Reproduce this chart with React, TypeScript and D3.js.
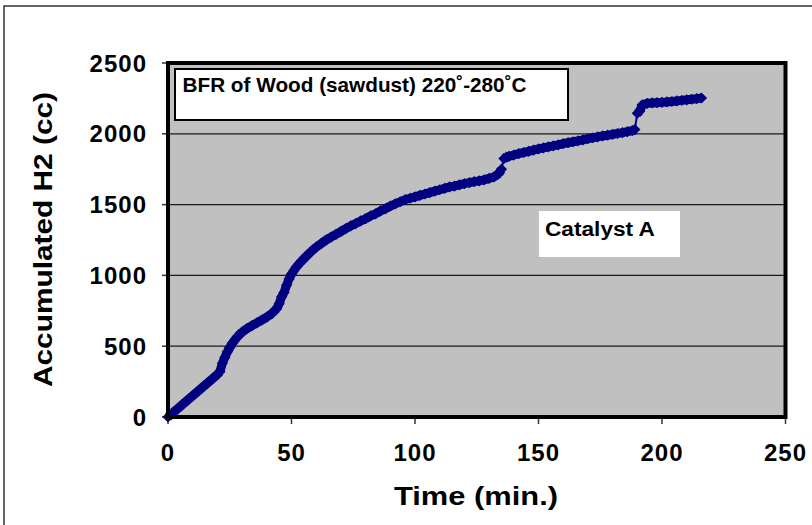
import React from "react";
import * as d3 from "d3";

const times: number[] = [
  0, 2, 4, 6, 8, 10, 12, 14, 16, 18, 20, 21, 22, 23, 24, 25, 26, 28, 30, 32, 34, 36, 38, 40, 42, 44, 45, 46, 47, 48, 49, 50,
  52, 54, 56, 58, 60, 62, 64, 66, 68, 70, 72, 74, 76, 78, 80, 82, 84, 86, 88, 90, 92, 94, 96, 98, 100,
  102, 104, 106, 108, 110, 112, 114, 116, 118, 120, 122, 124, 126, 128, 130, 132, 134, 135, 136, 137, 138,
  140, 142, 144, 146, 148, 150, 152, 154, 156, 158, 160, 162, 164, 166, 168, 170, 172, 174, 176, 178, 180,
  182, 184, 186, 188, 189, 190, 191, 192, 194, 196, 198, 200, 202, 204, 206, 208, 210, 212, 214, 216,
];
const h2: number[] = [
  0, 30, 60, 90, 120, 150, 180, 210, 240, 270, 300, 320, 380, 420, 460, 490, 520, 565, 600, 625, 645, 665, 685, 705, 730, 765, 800, 850, 880, 930, 975, 1010,
  1060, 1100, 1135, 1170, 1200, 1225, 1250, 1270, 1290, 1310, 1330, 1350, 1365, 1385, 1400, 1420, 1435, 1455, 1470, 1490, 1505, 1520, 1535, 1545, 1555,
  1565, 1575, 1585, 1595, 1605, 1615, 1625, 1630, 1640, 1648, 1655, 1662, 1668, 1675, 1685, 1695, 1720, 1750, 1825, 1835, 1840,
  1850, 1860, 1868, 1876, 1885, 1893, 1900, 1908, 1915, 1922, 1930, 1937, 1944, 1950, 1957, 1965, 1972, 1978, 1985, 1990, 1996,
  2002, 2008, 2015, 2022, 2030, 2145, 2160, 2205, 2215, 2218, 2220, 2222, 2225, 2228, 2232, 2236, 2240, 2244, 2248, 2253,
];
const xTicks: number[] = [0, 50, 100, 150, 200, 250];
const yTicks: number[] = [0, 500, 1000, 1500, 2000, 2500];
const yGrid: number[] = [500, 1000, 1500, 2000];
const titleText = "BFR of Wood (sawdust) 220˚-280˚C";
const labelText = "Catalyst A";
const xTitle = "Time (min.)";
const yTitle = "Accumulated H2 (cc)";

const W = 812;
const H = 525;
const L = 168, R = 785.5, T = 63, B = 417;
const font = "'Liberation Sans', Arial, sans-serif";
const navy = "#000080";

export default function App() {
  const x = d3.scaleLinear().domain([0, 250]).range([L, R]);
  const y = d3.scaleLinear().domain([0, 2500]).range([B, T]);
  const pts = times.map((t, i) => [t, h2[i]] as [number, number]);
  const line = d3.line<[number, number]>().x((d) => x(d[0])).y((d) => y(d[1]));
  const segs = pts.slice(1).map((p, i) => [pts[i], p] as [number, number][]);
  const s = 5.6;
  const diamond = `M0,${-s}L${s},0L0,${s}L${-s},0Z`;
  return (
    <svg width={W} height={H} style={{ position: "absolute", left: 0, top: 0, background: "#fff" }} fontFamily={font}>
      <rect x={4} y={6} width={900} height={600} fill="#fff" stroke="#333" strokeWidth={1.5} />
      <rect x={L} y={T} width={R - L} height={B - T} fill="#C0C0C0" />
      {yGrid.map((v) => (
        <line key={v} x1={L} x2={R} y1={y(v)} y2={y(v)} stroke="#1a1a1a" strokeWidth={1.2} />
      ))}
      {yTicks.map((v) => (
        <line key={"yt" + v} x1={L - 6} x2={L} y1={y(v)} y2={y(v)} stroke="#333" strokeWidth={1.5} />
      ))}
      {xTicks.map((v) => (
        <line key={"xt" + v} x1={x(v)} x2={x(v)} y1={B} y2={B + 7} stroke="#333" strokeWidth={1.5} />
      ))}
      <rect x={175} y={69} width={393} height={51} fill="#fff" stroke="#000" strokeWidth={2} />
      <text x={182.5} y={92} fontSize={21} fontWeight="bold" textLength={344} lengthAdjust="spacingAndGlyphs">{titleText}</text>
      <rect x={539} y={211} width={141} height={46} fill="#fff" />
      <text x={545} y={236} fontSize={21} fontWeight="bold" textLength={110} lengthAdjust="spacingAndGlyphs">{labelText}</text>
      {segs.map((sg, i) => (
        <path key={"sg" + i} d={line(sg) || ""} fill="none" stroke={navy}
          strokeWidth={Math.abs(sg[1][1] - sg[0][1]) / (sg[1][0] - sg[0][0]) > 70 ? 2 : 9} />
      ))}
      {pts.map((p, i) => (
        <path key={i} d={diamond} transform={`translate(${x(p[0])},${y(p[1])})`} fill={navy} />
      ))}
      <rect x={L} y={T} width={R - L} height={B - T} fill="none" stroke="#000" strokeWidth={4} />
      {yTicks.map((v) => (
        <text key={"yl" + v} x={147} y={y(v) + 8.5} fontSize={24} fontWeight="bold" textAnchor="end" letterSpacing={1}>{v}</text>
      ))}
      {xTicks.map((v) => (
        <text key={"xl" + v} x={x(v)} y={B + 44} fontSize={24} fontWeight="bold" textAnchor="middle" letterSpacing={1}>{v}</text>
      ))}
      <text x={394} y={505} fontSize={25} fontWeight="bold" textLength={164} lengthAdjust="spacingAndGlyphs">{xTitle}</text>
      <text transform="translate(52,387) rotate(-90)" fontSize={25} fontWeight="bold" textLength={295} lengthAdjust="spacingAndGlyphs">{yTitle}</text>
    </svg>
  );
}
